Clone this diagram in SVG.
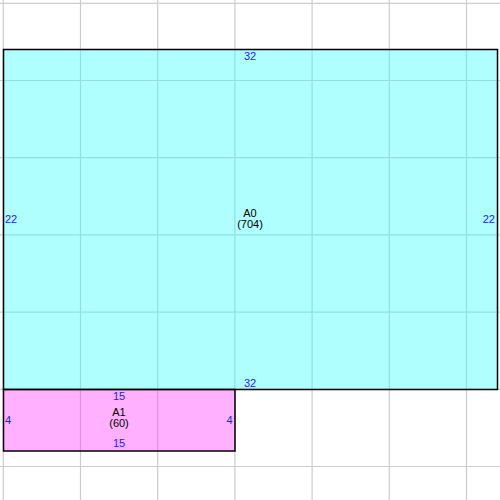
<svg xmlns="http://www.w3.org/2000/svg" width="500" height="500" viewBox="0 0 500 500">
<style>
.grid line{stroke:#cccccc;stroke-width:1.2}
.box{stroke:#000;stroke-width:1.5}
.num{font-family:"Liberation Sans",Arial,sans-serif;font-size:11px;fill:#1a1aff}
.lbl{font-family:"Liberation Sans",Arial,sans-serif;font-size:11px;fill:#000;text-anchor:middle}
</style>
<rect width="500" height="500" fill="#fff"/>
<g class="grid">
<line x1="3.3" y1="0" x2="3.3" y2="500"/>
<line x1="80.5" y1="0" x2="80.5" y2="500"/>
<line x1="157.7" y1="0" x2="157.7" y2="500"/>
<line x1="234.9" y1="0" x2="234.9" y2="500"/>
<line x1="312.1" y1="0" x2="312.1" y2="500"/>
<line x1="389.3" y1="0" x2="389.3" y2="500"/>
<line x1="466.5" y1="0" x2="466.5" y2="500"/>
<line x1="0" y1="3.3" x2="500" y2="3.3"/>
<line x1="0" y1="80.5" x2="500" y2="80.5"/>
<line x1="0" y1="157.7" x2="500" y2="157.7"/>
<line x1="0" y1="234.9" x2="500" y2="234.9"/>
<line x1="0" y1="312.1" x2="500" y2="312.1"/>
<line x1="0" y1="389.3" x2="500" y2="389.3"/>
<line x1="0" y1="466.5" x2="500" y2="466.5"/>
</g>
<g id="A0">
<rect x="3.5" y="49.5" width="494" height="340" fill="#39ffff" fill-opacity="0.4"/>
<rect class="box" x="3.5" y="49.5" width="494" height="340" fill="none"/>
<text class="lbl" x="250" y="217">A0</text>
<text class="lbl" x="250" y="228">(704)</text>
<text class="num" x="250" y="60" text-anchor="middle">32</text>
<text class="num" x="250" y="387" text-anchor="middle">32</text>
<text class="num" x="5" y="223">22</text>
<text class="num" x="495" y="223" text-anchor="end">22</text>
</g>
<g id="A1">
<rect x="3.5" y="389.5" width="231.5" height="61.5" fill="#ff39ff" fill-opacity="0.4"/>
<rect class="box" x="3.5" y="389.5" width="231.5" height="61.5" fill="none"/>
<text class="lbl" x="119" y="416">A1</text>
<text class="lbl" x="119" y="427">(60)</text>
<text class="num" x="119" y="400" text-anchor="middle">15</text>
<text class="num" x="119" y="447" text-anchor="middle">15</text>
<text class="num" x="5" y="424">4</text>
<text class="num" x="232.5" y="424" text-anchor="end">4</text>
</g>
<g id="connectors"/>
</svg>
